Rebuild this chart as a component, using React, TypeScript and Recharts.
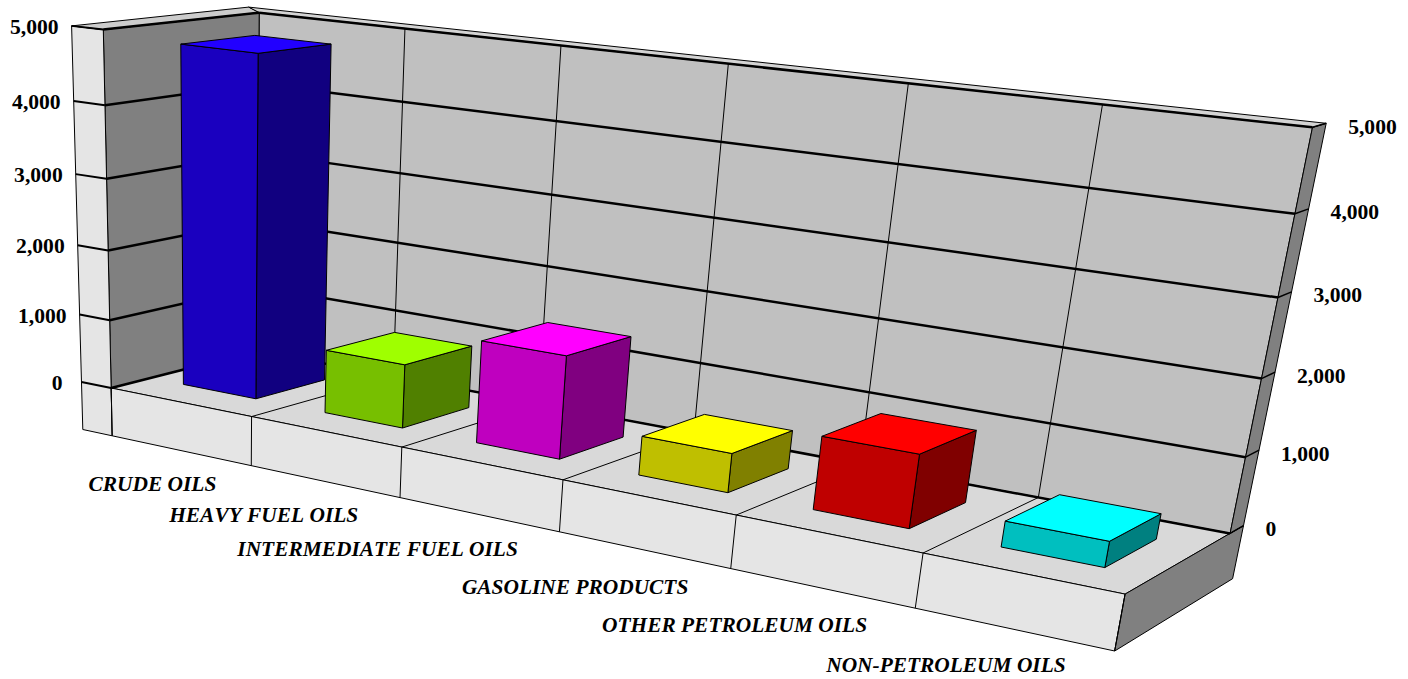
import { Bar, BarChart, XAxis, YAxis } from 'recharts';

const categories = [
  'CRUDE OILS',
  'HEAVY FUEL OILS',
  'INTERMEDIATE FUEL OILS',
  'GASOLINE PRODUCTS',
  'OTHER PETROLEUM OILS',
  'NON-PETROLEUM OILS',
];
const values = [4800, 900, 1420, 530, 970, 335];
const valueTicks = [0, 1000, 2000, 3000, 4000, 5000];

const topColors = ['#2200ff', '#9fff00', '#ff00ff', '#ffff00', '#ff0000', '#00ffff'];
const frontColors = ['#1a00bf', '#77bf00', '#bf00bf', '#bfbf00', '#bf0000', '#00bfbf'];
const sideColors = ['#110080', '#508000', '#800080', '#808000', '#800000', '#008080'];

const chartData = categories.map((name, i) => ({ name, value: values[i] }));

const W = 1408;
const H = 679;
const N = categories.length;
const MAX = 5000;

// the axes need 1px each or recharts drops them, so the plot is a bit smaller than the chart
const PLOT_LEFT = 1;
const PLOT_W = W - 1;
const PLOT_H = H - 1;

// wall thickness in world units: left wall, floor, back wall
const LEFT = 0.22;
const DROP = 0.72;
const BACK = 0.14;
// the bars stand in the middle of the floor depth
const Z_NEAR = 0.26;
const Z_FAR = 0.74;

// category labels sit a little off the floor corner, not quite evenly
const labelDx = [-35, -41.8, -41.6, -42.4, -48.2, -49];
const labelDy = [25, 24.2, 24.6, 25.6, 23.8, 21];

// camera calibration: [category pos, thousands, depth] -> screen
const calibration: number[][] = [
  [0, 0, 0, 110.5, 388],
  [1, 0, 0, 251, 417],
  [2, 0, 0, 401.5, 447],
  [3, 0, 0, 563, 480],
  [4, 0, 0, 736.7, 515],
  [5, 0, 0, 923, 553],
  [6, 0, 0, 1125, 594],
  [6, 0, 1, 1230, 533],
  [0, 0, 1, 258, 351],
  [0, 5, 0, 104, 29.5],
  [0, 4, 0, 105.3, 105],
  [0, 3, 0, 106.7, 179],
  [0, 1, 0, 109.7, 320],
  [0, 5, 1, 258, 13],
  [1, 5, 1, 405, 28],
  [5, 5, 1, 1102, 104],
  [6, 5, 1, 1313, 128],
  [6, 4, 1, 1295, 214],
];

function solveCamera(points: number[][]) {
  const size = 11;
  const a = Array.from({ length: size }, () => new Array(size + 1).fill(0));
  const add = (row: number[], rhs: number) => {
    for (let i = 0; i < size; i++) {
      for (let j = 0; j < size; j++) a[i][j] += row[i] * row[j];
      a[i][size] += row[i] * rhs;
    }
  };
  points.forEach(([X, Y, Z, px, py]) => {
    const u = px / 1000;
    const v = py / 1000;
    add([X, Y, Z, 1, 0, 0, 0, 0, -u * X, -u * Y, -u * Z], u);
    add([0, 0, 0, 0, X, Y, Z, 1, -v * X, -v * Y, -v * Z], v);
  });
  for (let c = 0; c < size; c++) {
    let best = c;
    for (let r = c + 1; r < size; r++) if (Math.abs(a[r][c]) > Math.abs(a[best][c])) best = r;
    [a[c], a[best]] = [a[best], a[c]];
    for (let r = 0; r < size; r++) {
      if (r === c) continue;
      const f = a[r][c] / a[c][c];
      for (let k = c; k <= size; k++) a[r][k] -= f * a[c][k];
    }
  }
  return a.map((row, i) => row[size] / row[i]);
}

const cam = solveCamera(calibration);

function project(X: number, Y: number, Z: number): [number, number] {
  const w = cam[8] * X + cam[9] * Y + cam[10] * Z + 1;
  return [
    (1000 * (cam[0] * X + cam[1] * Y + cam[2] * Z + cam[3])) / w,
    (1000 * (cam[4] * X + cam[5] * Y + cam[6] * Z + cam[7])) / w,
  ];
}

// pixel position inside the flat plot -> world position
const toSlot = (px: number) => ((px - PLOT_LEFT) / PLOT_W) * N;
const toLevel = (py: number) => ((PLOT_H - py) / PLOT_H) * (MAX / 1000);

const pts = (list: number[][]) =>
  list.map(([X, Y, Z]) => project(X, Y, Z).map((n) => n.toFixed(1)).join(',')).join(' ');

function Face({ corners, fill }: { corners: number[][]; fill: string }) {
  return <polygon points={pts(corners)} fill={fill} stroke="#000" strokeWidth={1} strokeLinejoin="round" />;
}

function Edge({ from, to, width = 1 }: { from: number[]; to: number[]; width?: number }) {
  const [x1, y1] = project(from[0], from[1], from[2]);
  const [x2, y2] = project(to[0], to[1], to[2]);
  return <line x1={x1} y1={y1} x2={x2} y2={y2} stroke="#000" strokeWidth={width} />;
}

function Frame() {
  const top = MAX / 1000;
  const slots = Array.from({ length: N + 1 }, (_, i) => i);
  const levels = valueTicks.map((t) => t / 1000);
  return (
    <g>
      <Face corners={[[0, 0, 1], [N, 0, 1], [N, top, 1], [0, top, 1]]} fill="#c0c0c0" />
      <Face corners={[[0, 0, 0], [0, 0, 1], [0, top, 1], [0, top, 0]]} fill="#808080" />
      <Face corners={[[0, 0, 0], [N, 0, 0], [N, 0, 1], [0, 0, 1]]} fill="#d9d9d9" />
      <Face corners={[[-LEFT, top, 0], [0, top, 0], [0, -DROP, 0], [-LEFT, -DROP, 0]]} fill="#e5e5e5" />
      <Face corners={[[0, 0, 0], [N, 0, 0], [N, -DROP, 0], [0, -DROP, 0]]} fill="#e5e5e5" />
      <Face corners={[[N, 0, 0], [N, 0, 1 + BACK], [N, -DROP, 1 + BACK], [N, -DROP, 0]]} fill="#808080" />
      <Face corners={[[N, 0, 1], [N, top, 1], [N, top, 1 + BACK], [N, 0, 1 + BACK]]} fill="#808080" />
      <Face corners={[[-LEFT, top, 0], [0, top, 0], [0, top, 1], [-LEFT, top, 1 + BACK]]} fill="#cccccc" />
      <Face corners={[[-LEFT, top, 1 + BACK], [N, top, 1 + BACK], [N, top, 1], [0, top, 1]]} fill="#d4d4d4" />
      {slots.slice(1, N).map((i) => (
        <g key={`slot-${i}`}>
          <Edge from={[i, 0, 1]} to={[i, top, 1]} />
          <Edge from={[i, 0, 0]} to={[i, 0, 1]} />
        </g>
      ))}
      {slots.map((i) => (
        <Edge key={`drop-${i}`} from={[i, 0, 0]} to={[i, -DROP, 0]} />
      ))}
      {levels.map((l) => (
        <g key={`level-${l}`}>
          <Edge from={[-LEFT, l, 0]} to={[0, l, 0]} width={2} />
          <Edge from={[0, l, 0]} to={[0, l, 1]} width={2.5} />
          <Edge from={[0, l, 1]} to={[N, l, 1]} width={2.5} />
          <Edge from={[N, l, 1]} to={[N, l, 1 + BACK]} width={1.5} />
        </g>
      ))}
    </g>
  );
}

function Cube({ x, y, width, height, index }: any) {
  const x0 = toSlot(x);
  const x1 = toSlot(x + width);
  const v = toLevel(y);
  const b = toLevel(y + height);
  return (
    <g>
      <Face corners={[[x1, b, Z_NEAR], [x1, b, Z_FAR], [x1, v, Z_FAR], [x1, v, Z_NEAR]]} fill={sideColors[index]} />
      <Face corners={[[x0, b, Z_NEAR], [x1, b, Z_NEAR], [x1, v, Z_NEAR], [x0, v, Z_NEAR]]} fill={frontColors[index]} />
      <Face corners={[[x0, v, Z_NEAR], [x1, v, Z_NEAR], [x1, v, Z_FAR], [x0, v, Z_FAR]]} fill={topColors[index]} />
    </g>
  );
}

const serif = '"Liberation Serif", "Times New Roman", serif';

function CategoryTick({ x, index, payload }: any) {
  const [px, py] = project(toSlot(x) + 0.5, -DROP, 0);
  return (
    <text
      x={px + labelDx[index]}
      y={py + labelDy[index]}
      textAnchor="end"
      fontFamily={serif}
      fontStyle="italic"
      fontWeight="bold"
      fontSize={21.4}
      fill="#000"
      style={{ fontKerning: 'none' }}
    >
      {payload.value}
    </text>
  );
}

// same value ticks go on both sides of the frame
function ValueTick({ y, payload }: any) {
  const level = toLevel(y);
  const label = payload.value.toLocaleString('en-US');
  const [lx, ly] = project(-LEFT, level, 0);
  const [rx, ry] = project(N, level, 1 + BACK);
  return (
    <g fontFamily={serif} fontWeight="bold" fontSize={21.6} fill="#000">
      <text x={lx - (payload.value === 0 ? 19 : 13)} y={ly + 8} textAnchor="end">
        {label}
      </text>
      <text x={rx + 22} y={ry + 10.5} textAnchor="start">
        {label}
      </text>
    </g>
  );
}

export default function App() {
  return (
    <div style={{ position: 'absolute', left: 0, top: 0, width: W, height: H }}>
      <BarChart
        width={W}
        height={H}
        data={chartData}
        margin={{ top: 0, right: 0, bottom: 0, left: 0 }}
        barCategoryGap="24%"
      >
        <Frame />
        <XAxis dataKey="name" height={1} interval={0} axisLine={false} tickLine={false} tick={CategoryTick} />
        <YAxis
          width={1}
          domain={[0, MAX]}
          ticks={valueTicks}
          interval={0}
          axisLine={false}
          tickLine={false}
          tick={ValueTick}
        />
        <Bar dataKey="value" isAnimationActive={false} shape={Cube} />
      </BarChart>
    </div>
  );
}
